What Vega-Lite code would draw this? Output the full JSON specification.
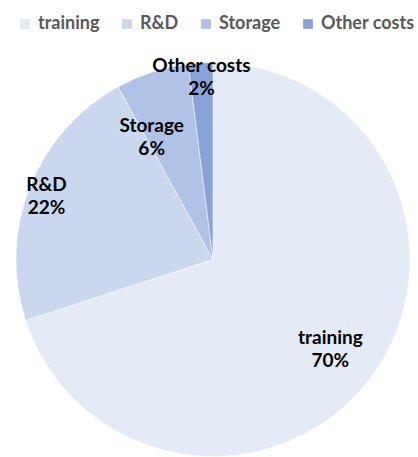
{
  "$schema": "https://vega.github.io/schema/vega-lite/v6.json",
  "width": 394,
  "height": 395,
  "autosize": {"type": "none"},
  "padding": {"top": 62, "left": 16, "right": 8, "bottom": 0},
  "background": "white",
  "data": {
    "values": [
      {"category": "training", "value": 70, "pct": "70%", "order": 1},
      {"category": "R&D", "value": 22, "pct": "22%", "order": 2},
      {"category": "Storage", "value": 6, "pct": "6%", "order": 3},
      {"category": "Other costs", "value": 2, "pct": "2%", "order": 4}
    ]
  },
  "transform": [{"calculate": "[datum.category, datum.pct]", "as": "label"}],
  "encoding": {
    "theta": {"field": "value", "type": "quantitative", "stack": true},
    "order": {"field": "order", "type": "quantitative"}
  },
  "layer": [
    {
      "mark": {"type": "arc", "stroke": "#ffffff", "strokeWidth": 0.5},
      "encoding": {
        "color": {
          "field": "category",
          "type": "nominal",
          "scale": {
            "domain": ["training", "R&D", "Storage", "Other costs"],
            "range": ["#e4ebf7", "#cbd7ef", "#b1c2e7", "#8aa2da"]
          },
          "legend": {
            "orient": "top",
            "direction": "horizontal",
            "title": null,
            "offset": 29,
            "padding": 0,
            "symbolType": "square",
            "symbolSize": 95,
            "symbolStrokeWidth": 0,
            "labelFont": "Lato",
            "labelFontWeight": "bold",
            "labelFontSize": 18,
            "labelColor": "#595959",
            "labelOffset": 4,
            "columnPadding": 18
          }
        }
      }
    },
    {
      "mark": {"type": "text", "radius": 150, "dy": -10, "dx": -4, "font": "Lato", "fontWeight": "bold", "fontSize": 19, "lineHeight": 23, "color": "#000000"},
      "encoding": {"text": {"condition": {"test": "datum.category === 'training'", "field": "label"}, "value": ""}}
    },
    {
      "mark": {"type": "text", "radius": 179, "dy": -9, "font": "Lato", "fontWeight": "bold", "fontSize": 19, "lineHeight": 23, "color": "#000000"},
      "encoding": {"text": {"condition": {"test": "datum.category === 'R&D'", "field": "label"}, "value": ""}}
    },
    {
      "mark": {"type": "text", "radius": 137, "dx": -19, "dy": -3, "font": "Lato", "fontWeight": "bold", "fontSize": 19, "lineHeight": 23, "color": "#000000"},
      "encoding": {"text": {"condition": {"test": "datum.category === 'Storage'", "field": "label"}, "value": ""}}
    },
    {
      "mark": {"type": "text", "radius": 184, "dy": -10, "font": "Lato", "fontWeight": "bold", "fontSize": 19, "lineHeight": 23, "color": "#000000"},
      "encoding": {"text": {"condition": {"test": "datum.category === 'Other costs'", "field": "label"}, "value": ""}}
    }
  ],
  "config": {"view": {"stroke": null}}
}
